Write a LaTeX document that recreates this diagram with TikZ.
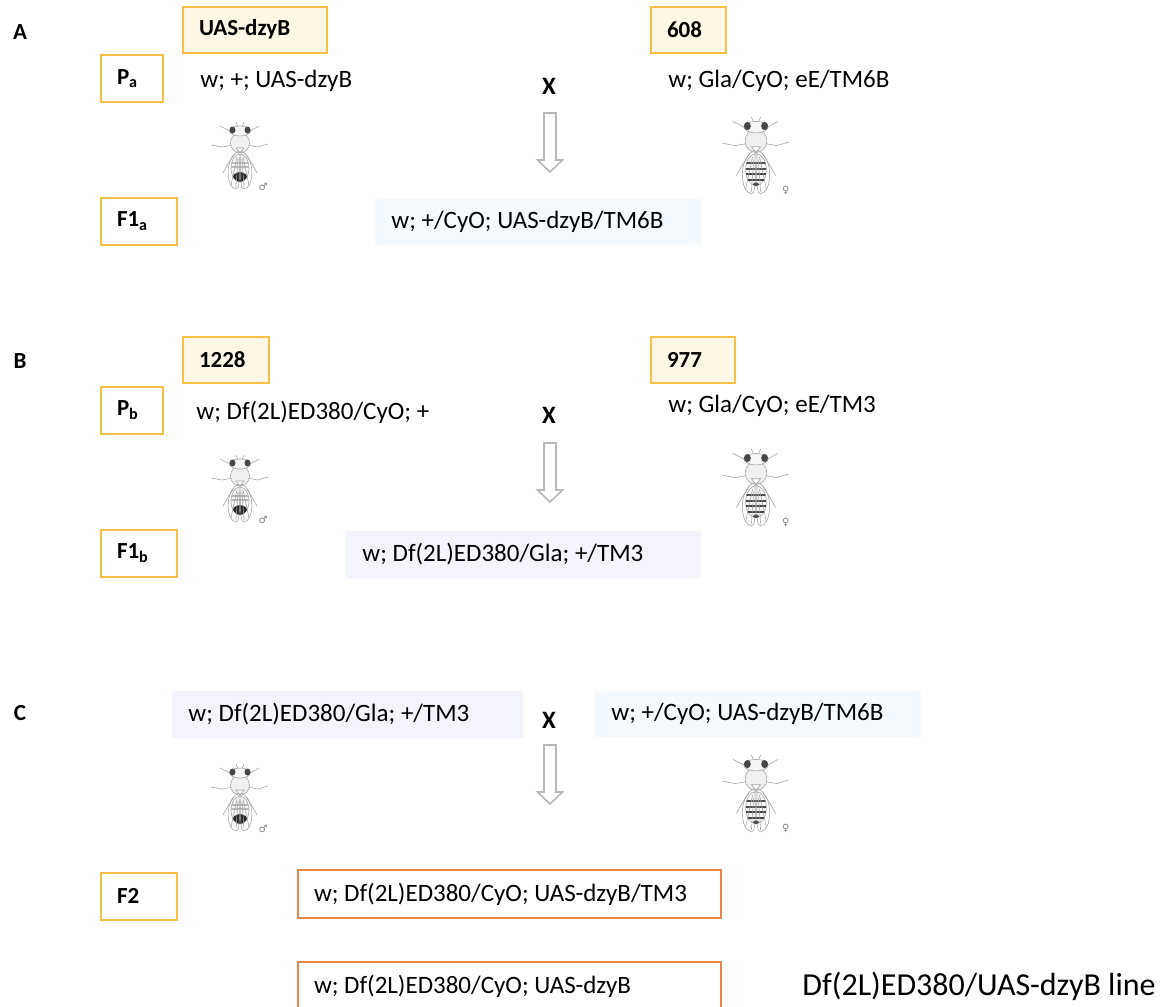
\documentclass[tikz,border=0pt]{standalone}
\usepackage{fontspec}
\setmainfont{Carlito}
\newfontfamily\symbolfont{DejaVu Sans}
\usepackage{tikz}
\usetikzlibrary{positioning}
\frenchspacing

\definecolor{tagline}{RGB}{246,192,72}
\definecolor{tagfill}{RGB}{255,247,230}
\definecolor{bluefill}{RGB}{245,250,255}
\definecolor{lavfill}{RGB}{243,244,252}
\definecolor{f2line}{RGB}{230,135,80}

\tikzstyle{tag} = [rectangle, draw=tagline, line width=1pt, fill=tagfill, minimum height=23pt, inner xsep=8pt, inner ysep=0pt, align=flush left, anchor=west, font=\fontsize{11.5}{13}\selectfont\bfseries]
\tikzstyle{generation} = [tag, fill=white, minimum height=23.5pt]
\tikzstyle{geno} = [inner sep=0pt, anchor=west, font=\fontsize{12.5}{15}\selectfont]
\tikzstyle{genobox} = [rectangle, minimum height=23.5pt, inner xsep=8pt, inner ysep=0pt, align=flush left, anchor=west, font=\fontsize{12.5}{15}\selectfont]
\tikzstyle{offspring} = [genobox, draw=f2line, line width=1pt, fill=white, minimum height=24pt]
\tikzstyle{cross} = [inner sep=0pt, font=\fontsize{12.5}{15}\selectfont\bfseries]
\tikzstyle{panel} = [inner sep=0pt, font=\fontsize{11.5}{13}\selectfont\bfseries]
\tikzstyle{flyline} = [draw=gray!70, line width=0.3pt]

% fly sketch, thorax centre at the origin, y pointing down
\newcommand{\flybody}{
  % legs
  \draw[flyline] (-4,-6) -- (-10,-12) -- (-20,-17);
  \draw[flyline] (4,-6) -- (10,-12) -- (19,-17);
  \draw[flyline] (-7,2) -- (-18,4) -- (-29,2);
  \draw[flyline] (7,2) -- (18,4) -- (28,1);
  \draw[flyline] (-6,12) -- (-12,21) -- (-17,30);
  \draw[flyline] (6,12) -- (12,21) -- (17,30);
  % abdomen and thorax
  \draw[flyline, fill=gray!6] (0,25) ellipse [x radius=9, y radius=14];
  \draw[flyline, fill=gray!12] (0,0) ellipse [x radius=9.5, y radius=10];
  \draw[flyline, fill=white] (-4,5) -- (4,5) -- (0,10) -- cycle;
  % head, eyes, antennae
  \draw[flyline] (-2,-16) -- (-4,-21);
  \draw[flyline] (2,-16) -- (4,-21);
  \draw[flyline, fill=gray!8] (0,-12) ellipse [x radius=10.5, y radius=5];
  \fill[gray!55!black] (-7.5,-13) ellipse [x radius=3, y radius=3.5];
  \fill[gray!55!black] (7.5,-13) ellipse [x radius=3, y radius=3.5];
}
\newcommand{\flywings}{
  \draw[flyline] (-1,8) .. controls (-16,14) and (-14,45) .. (-4,46) .. controls (-1,46) and (0,40) .. (-1,8);
  \draw[flyline] (1,8) .. controls (16,14) and (14,45) .. (4,46) .. controls (1,46) and (0,40) .. (1,8);
  \draw[flyline] (-3,14) -- (-9,42) (3,14) -- (9,42);
  \draw[flyline] (-2,16) -- (-4,44) (2,16) -- (4,44);
}
\tikzset{
  malefly/.pic={
    \flybody
    \begin{scope}
      \clip (0,25) ellipse [x radius=9, y radius=14];
      \fill[gray!30!black] (0,37) ellipse [x radius=8, y radius=8];
      \draw[gray!55, line width=0.6pt] (-9,20) -- (9,20) (-9,24) -- (9,24);
    \end{scope}
    \flywings
    \node (-sex) [inner sep=0pt, text=gray, font=\symbolfont\fontsize{5}{5}\selectfont] at (23,44) {♂};
  },
  femalefly/.pic={
    \flybody
    \begin{scope}
      \clip (0,25) ellipse [x radius=9, y radius=14];
      \foreach \s/\c in {19/45,24/55,29/70,34/80}
        \draw[gray!\c!white!40!black, line width=0.9pt] (-9,\s) -- (9,\s);
      \fill[gray!30!black] (0,38) ellipse [x radius=2.5, y radius=2];
    \end{scope}
    \flywings
    \node (-sex) [inner sep=0pt, text=gray, font=\symbolfont\fontsize{5}{5}\selectfont] at (26,43) {♀};
  },
  crossarrow/.pic={
    \draw[gray!55, line width=0.8pt, fill=white] (-6,0) -- (6,0) -- (6,47) -- (12.5,47) -- (0,59) -- (-12.5,47) -- (-6,47) -- cycle;
  }
}

\begin{document}
\begin{tikzpicture}[x=0.5pt, y=-0.5pt]

\fill[white] (0,0) rectangle (1168,1007);
\clip (0,0) rectangle (1168,1007);

% --------- Cross A ----------
\node (A_LABEL) [panel] at (20,32) {A};
\node (A_TAG1) [tag, text width=56pt]   at (182,29.5) {UAS-dzyB};
\node (A_TAG2) [tag, text width=21.5pt] at (650,29.5) {608};
\node (PA)     [generation, text width=15pt] at (100,78.5) {P\textsubscript{a}};
\node (PA_LEFT)  [geno] at (200,81) {w; +; UAS-dzyB};
\node (PA_X)     [cross] at (549,86) {X};
\node (PA_RIGHT) [geno] at (668,81) {w; Gla/CyO; eE/TM6B};
\pic (A_ARROW) at (550,113) {crossarrow};
\pic (A_MALE)   at (240,143) {malefly};
\pic (A_FEMALE) [scale=1.15] at (756,141) {femalefly};
\node (F1A)      [generation, text width=22pt] at (100,221) {F1\textsubscript{a}};
\node (F1A_GENO) [genobox, fill=bluefill, text width=147pt] at (375,221.5) {w; +/CyO; UAS-dzyB/TM6B};

% --------- Cross B ----------
\node (B_LABEL) [panel] at (20,361) {B};
\node (B_TAG1) [tag, text width=27pt] at (182,360) {1228};
\node (B_TAG2) [tag, text width=26pt] at (650,360) {977};
\node (PB)       [generation, text width=15pt] at (100,410) {P\textsubscript{b}};
\node (PB_LEFT)  [geno] at (196,412) {w; Df(2L)ED380/CyO; +};
\node (PB_X)     [cross] at (549,415) {X};
\node (PB_RIGHT) [geno] at (668,406) {w; Gla/CyO; eE/TM3};
\pic (B_ARROW) at (550,443) {crossarrow};
\pic (B_MALE)   at (240,476) {malefly};
\pic (B_FEMALE) [scale=1.15] at (756,473) {femalefly};
\node (F1B)      [generation, text width=22pt] at (100,553) {F1\textsubscript{b}};
\node (F1B_GENO) [genobox, fill=lavfill, text width=161.5pt] at (346,554) {w; Df(2L)ED380/Gla; +/TM3};

% --------- Cross C ----------
\node (C_LABEL) [panel] at (20,713) {C};
\node (C_LEFT)  [genobox, fill=lavfill, text width=159.5pt] at (172,714) {w; Df(2L)ED380/Gla; +/TM3};
\node (C_X)     [cross] at (549,720) {X};
\node (C_RIGHT) [genobox, fill=bluefill, text width=147pt] at (595,714) {w; +/CyO; UAS-dzyB/TM6B};
\pic (C_ARROW) at (550,745) {crossarrow};
\pic (C_MALE)   at (240,785) {malefly};
\pic (C_FEMALE) [scale=1.15] at (756,779) {femalefly};
\node (F2)      [generation, text width=22pt] at (100,896) {F2};
\node (F2_GENO) [offspring, text width=195.5pt] at (297,894) {w; Df(2L)ED380/CyO; UAS-dzyB/TM3};
\node (F2_LINE) [offspring, text width=195.5pt] at (297,986) {w; Df(2L)ED380/CyO; UAS-dzyB};
\node (F2_NAME) [geno, font=\fontsize{16}{19}\selectfont, right=40pt of F2_LINE] {Df(2L)ED380/UAS-dzyB line};

\end{tikzpicture}
\end{document}
